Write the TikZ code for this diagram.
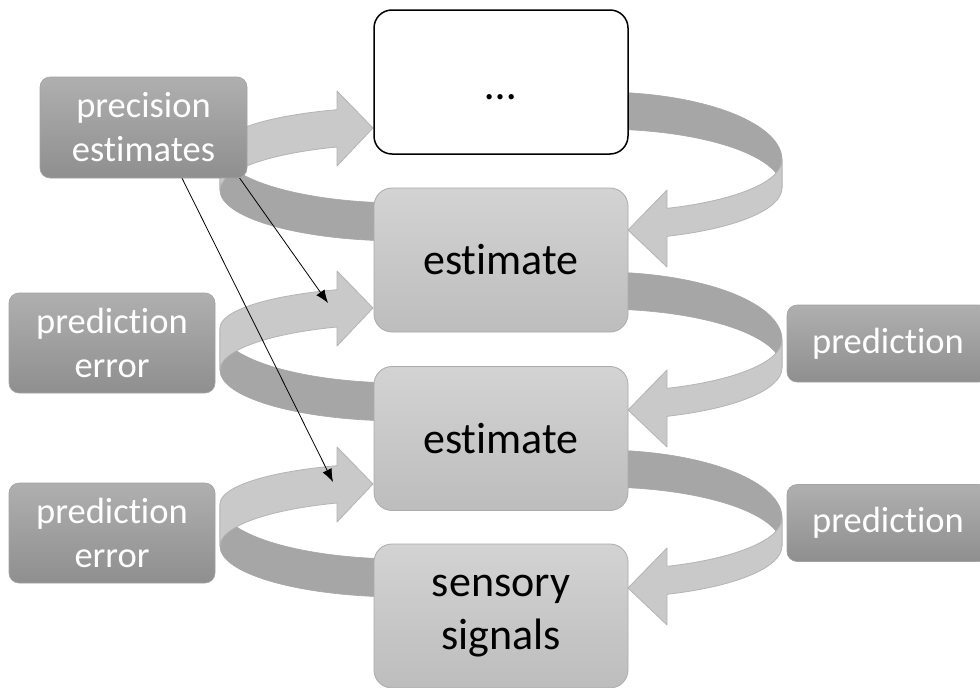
\documentclass[tikz,border=0pt]{standalone}
\usepackage{fontspec}
\setmainfont{Carlito}[RawFeature={-liga;-clig}]
\usetikzlibrary{arrows.meta}

\definecolor{ribLight}{HTML}{C9C9C9}
\definecolor{ribLightEdge}{HTML}{B4B4B4}
\definecolor{ribDark}{HTML}{A6A6A6}
\definecolor{coreTop}{HTML}{D3D3D3}
\definecolor{coreBot}{HTML}{BDBDBD}
\definecolor{coreEdge}{HTML}{ABABAB}
\definecolor{tagTop}{HTML}{AFAFAF}
\definecolor{tagBot}{HTML}{8F8F8F}
\definecolor{tagEdge}{HTML}{A3A3A3}

% one ribbon loop on the left: rises from the lower box into the upper one
\newcommand\ribbonL[1]{%
  \begin{scope}[shift={(0,#1)}]
    \filldraw[ribback] (220,328)
      arc[start angle=180, end angle=93.8, x radius=182, y radius=55]
      -- (389.9,420.9)
      arc[start angle=93.8, end angle=180, x radius=182, y radius=51] -- cycle;
    \filldraw[ribfront] (220,328)
      arc[start angle=180, end angle=249.1, x radius=182, y radius=41]
      -- (337,271) -- (373,308) -- (337,346) -- (337,327)
      arc[start angle=249.1, end angle=180, x radius=182, y radius=46] -- cycle;
  \end{scope}}

% one ribbon loop on the right: descends from the upper box into the lower one
\newcommand\ribbonR[1]{%
  \begin{scope}[shift={(0,#1)}]
    \filldraw[ribback] (612.1,272.1)
      arc[start angle=-86.2, end angle=0, x radius=182, y radius=68]
      -- (782,368)
      arc[start angle=0, end angle=-86.2, x radius=182, y radius=59] -- cycle;
    \filldraw[ribfront] (782,340)
      arc[start angle=0, end angle=68.4, x radius=182, y radius=52]
      -- (667,370) -- (628,410) -- (667,447) -- (667,416.3)
      arc[start angle=68.4, end angle=0, x radius=182, y radius=52] -- cycle;
  \end{scope}}

\begin{document}
\begin{tikzpicture}[x=1pt, y=-1pt,
  ribback/.style={fill=ribDark, draw=ribDark, line width=0.6pt},
  ribfront/.style={fill=ribLight, draw=ribLightEdge, line width=0.8pt, line join=round},
  core/.style={rectangle, rounded corners=18pt, inner sep=0pt,
    minimum width=254pt, minimum height=144pt,
    top color=coreTop, bottom color=coreBot, draw=coreEdge, line width=0.8pt,
    align=center, font=\fontsize{44}{53}\selectfont},
  blank/.style={core, top color=white, bottom color=white, draw=black, line width=1.5pt},
  tag/.style={rectangle, rounded corners=10pt, inner sep=0pt,
    top color=tagTop, bottom color=tagBot, draw=tagEdge, line width=0.6pt,
    text=white, align=center, font=\fontsize{36.5}{44}\selectfont},
  pointer/.style={-{Latex[length=13pt,width=10pt]}, line width=0.8pt, black}]

\clip (0,0) rectangle (980,688);
\fill[white] (0,0) rectangle (980,688);

% ribbon loops
\ribbonL{-180}
\ribbonL{0}
\ribbonL{176}
\ribbonR{-180}
\ribbonR{0}
\ribbonR{178}

% central column
\node[blank, label={[font=\fontsize{44}{53}\selectfont, yshift=-4pt]center:\vphantom{t}…}]
  (top) at (501,82) {};
\node[core]  (est1)  at (501,260) {estimate};
\node[core]  (est2)  at (501,438.5) {estimate};
\node[core]  (sens)  at (501,616) {sensory\\signals};

% precision weighting arrows
\coordinate (srcA) at (224,156);
\coordinate (srcB) at (172,158);
\coordinate (dstA) at (328,303);
\coordinate (dstB) at (333,482);
\draw[pointer] (srcA) -- (dstA);
\draw[pointer] (srcB) -- (dstB);

% side labels
\node[tag, minimum width=207pt, minimum height=101pt] (prec) at (143.5,127.5) {precision\\estimates};
\node[tag, minimum width=206pt, minimum height=100pt] (err1) at (112,343) {prediction\\error};
\node[tag, minimum width=206pt, minimum height=100pt] (err2) at (112,533) {prediction\\error};
\node[tag, minimum width=202pt, minimum height=77pt]  (pred1) at (888,343.5) {prediction};
\node[tag, minimum width=202pt, minimum height=77pt]  (pred2) at (888,523) {prediction};
\end{tikzpicture}
\end{document}
